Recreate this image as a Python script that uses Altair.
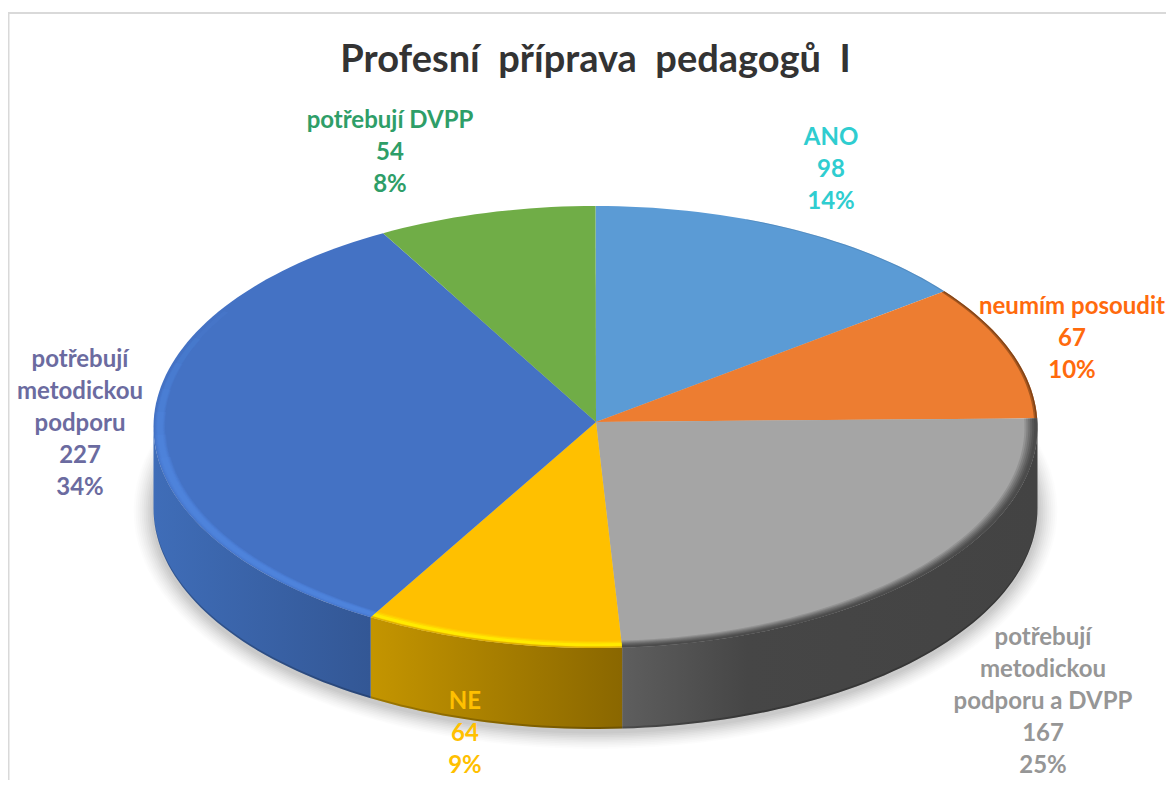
import math
import altair as alt
import pandas as pd

# --- values ---
categories = ["ANO", "neumím posoudit", "potřebují metodickou podporu a DVPP", "NE",
              "potřebují metodickou podporu", "potřebují DVPP"]
values = [98, 67, 167, 64, 227, 54]
percents = ["14%", "10%", "25%", "9%", "34%", "8%"]
label_lines = [["ANO"], ["neumím posoudit"], ["potřebují", "metodickou", "podporu a DVPP"], ["NE"],
               ["potřebují", "metodickou", "podporu"], ["potřebují DVPP"]]
top_colors = ["#5B9BD5", "#ED7D31", "#A5A5A5", "#FFC000", "#4472C4", "#70AD47"]
label_colors = ["#2FCDD0", "#FF6A0D", "#969696", "#FFC000", "#6B6BA0", "#2E9E68"]
title_text = "Profesní\u00a0\u00a0příprava\u00a0\u00a0pedagogů\u00a0\u00a0I"

# --- layout (picture pixels) ---
W, H = 1166, 780
CX, CY, RX, RY = 595.5, 427.0, 442.0, 221.0
APEX = (596.0, 422.0)
DEPTH = 81.0
label_pos = [(831, 138), (1072, 307), (1043, 638), (465, 702), (80, 360), (390, 121)]
LINE_H = 32

xs = alt.Scale(domain=[8, W], range=[0, W - 8], nice=False, zero=False)
ys = alt.Scale(domain=[8, H], range=[0, H - 8], nice=False, zero=False)


def poly(points, **mark):
    df = pd.DataFrame([{"x": round(p[0], 2), "y": round(p[1], 2), "i": k} for k, p in enumerate(points)])
    return alt.Chart(df).mark_line(strokeWidth=0, **mark).encode(
        x=alt.X("x:Q", scale=xs, axis=None),
        y=alt.Y("y:Q", scale=ys, axis=None),
        order=alt.Order("i:Q"),
    )


def arc(a, b, cx=CX, cy=CY, rx=RX, ry=RY, step=1.5):
    n = max(2, int(abs(b - a) / step) + 1)
    out = []
    for k in range(n + 1):
        t = math.radians(a + (b - a) * k / n)
        out.append((cx + rx * math.sin(t), cy - ry * math.cos(t)))
    return out


def band(a, b, outer, inner, color, opacity):
    """Bevel strip between two inset ellipses, insets as a share of the bevel."""
    bx, by = 13.0, 7.0
    o = arc(a, b, rx=RX - bx * outer, ry=RY - by * outer)
    i = arc(a, b, rx=RX - bx * inner, ry=RY - by * inner)
    return poly(o + i[::-1], fill=color, fillOpacity=opacity)


total = sum(values)
edges = [0.0]
for v in values:
    edges.append(edges[-1] + v / total * 360.0)

layers = []

# soft shadow below the disc
for k in range(10):
    e = 20 - 2.0 * k
    layers.append(poly(arc(0, 360, cy=CY + DEPTH + 3, rx=RX + e, ry=RY + e * 0.85, step=3),
                       fill="#000000", fillOpacity=0.012 + 0.002 * k))


def hgrad(stops):
    return alt.Gradient(gradient="linear", x1=0, x2=1, y1=0, y2=0,
                        stops=[alt.GradientStop(offset=o, color=c) for o, c in stops])


# side walls of the front slices
wall_fills = {
    2: hgrad([(0, "#5E5E5E"), (0.3, "#464646"), (1, "#434343")]),
    3: hgrad([(0, "#C49500"), (1, "#8A6700")]),
    4: hgrad([(0, "#3F6DB8"), (1, "#335795")]),
}
for k in (2, 3, 4):
    a, b = max(edges[k], 90.0), min(edges[k + 1], 270.0)
    top = arc(a, b)
    bot = arc(a, b, cy=CY + DEPTH)
    layers.append(poly(top + bot[::-1], fill=wall_fills[k]))
    edge_in = arc(a, b, cy=CY + DEPTH - 2.0)
    layers.append(poly(bot + edge_in[::-1], fill="#000000", fillOpacity=0.2))

# top surface of each slice
for k in range(len(values)):
    pts = [APEX] + arc(edges[k], edges[k + 1]) + [APEX]
    layers.append(poly(pts, fill=top_colors[k]))

# bevel along the front rim
a, b = edges[2], edges[3]
for o, i, op in [(0, 1.0, 0.18), (0, 0.85, 0.22), (0, 0.7, 0.26), (0, 0.55, 0.32), (0, 0.4, 0.4), (0, 0.25, 0.5)]:
    layers.append(band(a, b, o, i, "#444444", op))
a, b = edges[3], edges[4]
for o, i, op in [(0, 1.0, 0.2), (0.1, 0.85, 0.35), (0.25, 0.65, 0.7)]:
    layers.append(band(a, b, o, i, "#FFF200", op))
layers.append(band(a, b, 0, 0.2, "#C49500", 0.5))
a = edges[4]
for end, o, i, op in [(262, 0, 1.0, 0.15), (268, 0.05, 0.95, 0.15), (274, 0.1, 0.9, 0.15), (280, 0.15, 0.85, 0.15),
                      (287, 0.2, 0.8, 0.15), (294, 0.25, 0.75, 0.12), (302, 0.3, 0.7, 0.1)]:
    layers.append(band(a, end, o, i, "#5590EE", op))
a = edges[1]
layers.append(band(a, edges[2], 0, 0.25, "#7A3F14", 0.6))
layers.append(band(a, edges[2], 0, 0.12, "#5A2E0E", 0.5))
layers.append(band(20.0, edges[1], 0, 0.12, "#3D6E9C", 0.35))

# data labels
rows = []
for k, n in enumerate(categories):
    rows.append({
        "t": "\n".join(label_lines[k] + [str(values[k]), percents[k]]),
        "x": label_pos[k][0], "y": label_pos[k][1], "c": label_colors[k],
    })
labels = alt.Chart(pd.DataFrame(rows)).mark_text(
    font="Lato", fontWeight="bold", fontSize=24, lineBreak="\n", lineHeight=LINE_H,
    align="center", baseline="middle",
).encode(
    x=alt.X("x:Q", scale=xs, axis=None),
    y=alt.Y("y:Q", scale=ys, axis=None),
    text="t:N",
    color=alt.Color("c:N", scale=None, legend=None),
)
layers.append(labels)

title = alt.Chart(pd.DataFrame({"t": [title_text], "x": [595.5], "y": [61]})).mark_text(
    font="Lato", fontWeight="bold", fontSize=38, color="#333333", align="center", baseline="middle",
).encode(x=alt.X("x:Q", scale=xs, axis=None), y=alt.Y("y:Q", scale=ys, axis=None), text="t:N")
layers.append(title)

# chart frame
frame_h = alt.Chart(pd.DataFrame({"x": [8], "x2": [W], "y": [13]})).mark_rule(color="#D9D9D9", strokeWidth=2).encode(
    x=alt.X("x:Q", scale=xs, axis=None), x2="x2:Q", y=alt.Y("y:Q", scale=ys, axis=None))
frame_v = alt.Chart(pd.DataFrame({"x": [8.5], "y": [13], "y2": [H]})).mark_rule(color="#D9D9D9", strokeWidth=2).encode(
    x=alt.X("x:Q", scale=xs, axis=None), y=alt.Y("y:Q", scale=ys, axis=None), y2="y2:Q")
layers += [frame_h, frame_v]

chart = alt.layer(*layers).properties(
    width=W - 8, height=H - 8, padding=0, autosize=alt.AutoSizeParams(type="none"),
).configure_view(stroke=None)

chart.save("out.html", embed_options={"renderer": "svg", "actions": False})
